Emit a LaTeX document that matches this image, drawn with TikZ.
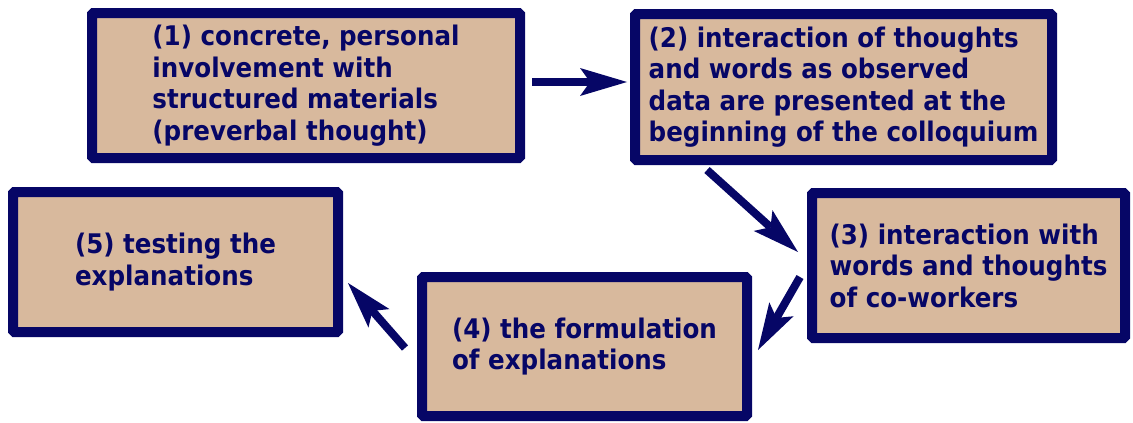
\documentclass[tikz,border=0pt]{standalone}
\usepackage{fontspec}
\setmainfont{DejaVu Sans}[FakeStretch=0.91]
\usetikzlibrary{arrows.meta}
\definecolor{navy}{RGB}{6,6,102}
\definecolor{boxtan}{RGB}{216,185,157}
\begin{document}
\begin{tikzpicture}[x=1pt,y=-1pt,
  box/.style={draw=navy, fill=boxtan, line width=10pt, rounded corners=1.5pt,
    text=navy, font=\fontsize{27}{31.5}\selectfont\bfseries, align=left, inner sep=0pt},
  arr/.style={draw=navy, line width=8pt,
    -{Stealth[length=47pt,width=28pt,inset=10pt,line width=0pt]}}]
\useasboundingbox (0,0) rectangle (1133,423);
\node[box, minimum width=428pt, minimum height=145pt] (b1) at (306,85.5)
  {(1) concrete, personal\\involvement with\\structured materials\\(preverbal thought)};
\node[box, minimum width=417pt, minimum height=146pt] (b2) at (843.5,87)
  {(2) interaction of thoughts\\and words as observed\\data are presented at the\\beginning of the colloquium};
\node[box, minimum width=313pt, minimum height=145pt] (b3) at (968.5,265.5)
  {(3) interaction with\\words and thoughts\\of co-workers};
\node[box, minimum width=325pt, minimum height=139pt] (b4) at (584.5,346.5)
  {(4) the formulation\\of explanations};
\node[box, minimum width=325pt, minimum height=140pt] (b5) at (175.5,262)
  {(5) testing the\\explanations};
\draw[arr] ([shift={(7,-3.5)}]b1.east) -- ([shift={(-3,-5)}]b2.west);
\draw[arr] ([shift={(77,5)}]b2.south west) -- ([shift={(-9,-13.5)}]b3.west);
\draw[arr] ([shift={(-7,11.5)}]b3.west) -- ([shift={(6,3.5)}]b4.east);
\draw[arr] ([shift={(-12,1.5)}]b4.west) -- ([shift={(5,21)}]b5.east);
\end{tikzpicture}
\end{document}
